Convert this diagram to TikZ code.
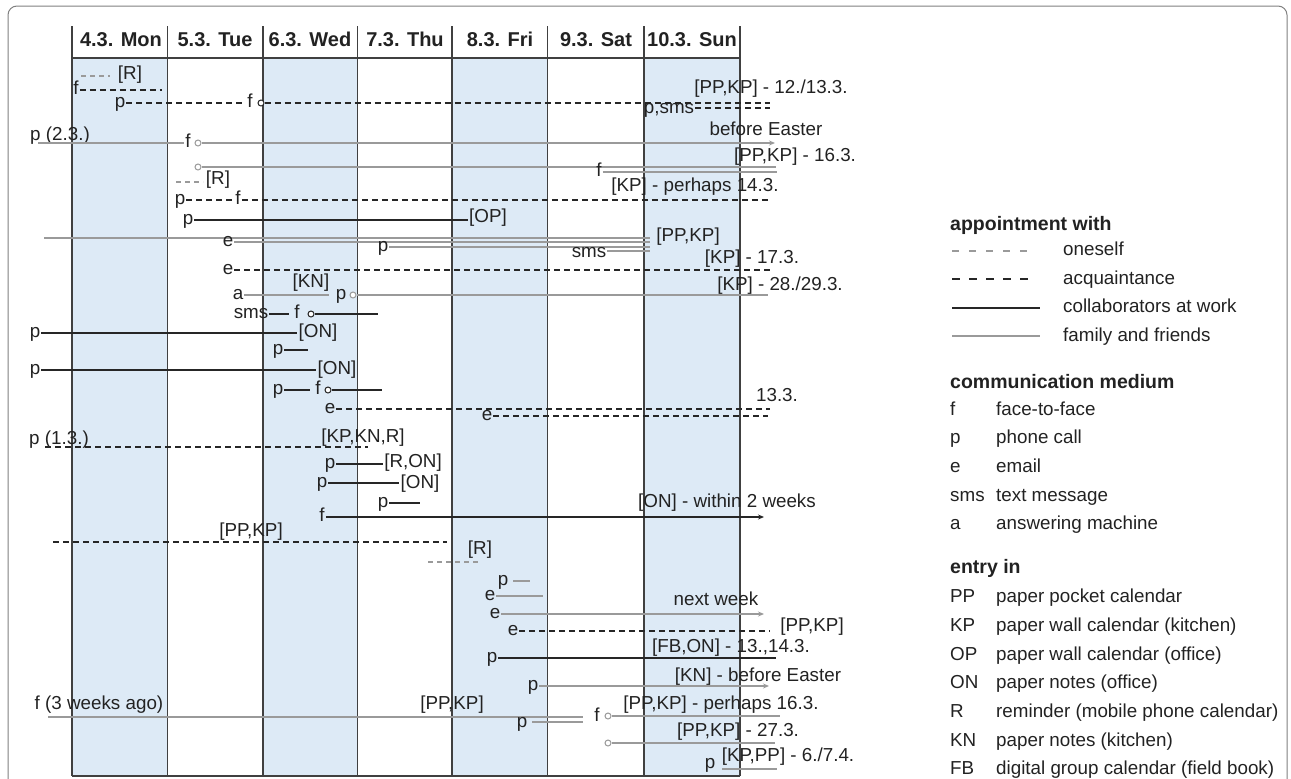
\documentclass[tikz,border=0pt]{standalone}
\usepackage{fontspec}
\setmainfont{Liberation Sans}
\usetikzlibrary{arrows.meta}

\definecolor{daybg}{HTML}{DDEAF6}
\definecolor{txt}{HTML}{222222}
\definecolor{famgray}{HTML}{9A9A9A}
\definecolor{workblk}{HTML}{262626}
\definecolor{gridc}{HTML}{404040}

\begin{document}
\begin{tikzpicture}[x=1pt, y=-1pt, every node/.style={font=\fontsize{18.8}{22}\selectfont, text=txt}]
    \tikzset{lbl/.style={inner sep=1pt, text height=13.5pt, text depth=4pt}}
    \tikzset{head/.style={inner sep=1pt, anchor=west, font=\fontsize{19.5}{22}\selectfont\bfseries}}
    \tikzset{self/.style={draw=famgray, line width=1.3pt, dash pattern=on 5pt off 4pt}}
    \tikzset{acq/.style={draw=workblk, line width=1.5pt, dash pattern=on 6pt off 4pt}}
    \tikzset{work/.style={draw=workblk, line width=1.6pt}}
    \tikzset{fam/.style={draw=famgray, line width=1.4pt}}
    \tikzset{dot/.style={circle, draw=famgray, fill=white, line width=1pt, inner sep=0pt, minimum size=6pt}}
    \tikzset{tip/.style={-{Stealth[length=6pt, width=5pt]}}}

    \useasboundingbox (0,0) rectangle (1291,779);
    \draw[gray, line width=1pt, rounded corners=9pt] (8,779) -- (8,6) -- (1287,6) -- (1287,779);

    % Week grid
    \foreach \a/\b in {72/167.5, 263/357.5, 452/547.5, 644/740}
        \fill[daybg] (\a,58) rectangle (\b,776);
    \foreach \x in {72,167.5,263,357.5,452,547.5,644,740}
        \draw[gridc, line width=1.6pt] (\x,26) -- (\x,776);
    \draw[gridc, line width=1.6pt] (72,58) -- (740,58);
    \draw[gridc, line width=1.6pt] (72,776) -- (740,776);
    \foreach \x/\dlab [count=\i] in {121/4.3. Mon, 215/5.3. Tue, 310/6.3. Wed, 405/7.3. Thu, 500/8.3. Fri, 596/9.3. Sat, 692/10.3. Sun}
        \node[lbl, font=\fontsize{20}{22}\selectfont\bfseries] (day\i) at (\x,42) {\dlab};

    % Appointments
    \node[lbl] (r1) at (130,75) {[R]};
    \coordinate (r1s) at (81,76);
    \coordinate (r1e) at (110,76);
    \draw[self] (r1s) -- (r1e);

    \node[lbl] (f1) at (76,90) {f};
    \coordinate (f1e) at (162,90);
    \draw[acq] (f1.east) -- (f1e);

    \node[lbl] (p2) at (120,103) {p};
    \node[lbl] (f2) at (250,103) {f};
    \node[dot, draw=workblk] (c2) at (261,103) {};
    \coordinate (c2e) at (770,103);
    \draw[acq] (p2.east) -- (f2.west);
    \draw[acq] (c2.east) -- (c2e);
    \node[lbl] (ps2) at (669,109) {p,sms};
    \coordinate (ps2e) at (770,108);
    \draw[acq] (ps2.east |- ps2e) -- (ps2e);
    \node[lbl] (d2) at (771,89) {[PP,KP] - 12./13.3.};

    \node[lbl] (p3) at (60,136) {p (2.3.)};
    \coordinate (p3s) at (38,143);
    \node[lbl] (f3) at (188,143) {f};
    \node[dot] (c3) at (198,143) {};
    \coordinate (c3e) at (775,143);
    \draw[fam] (p3s) -- (f3.west |- p3s);
    \draw[fam, tip] (c3.east) -- (c3e);
    \node[lbl] (d3) at (766,131) {before Easter};

    \node[dot] (c4) at (198,167) {};
    \coordinate (c4e) at (776,167);
    \draw[fam] (c4.east) -- (c4e);
    \node[lbl] (f4) at (599,172) {f};
    \coordinate (f4e) at (777,172);
    \draw[fam] (f4.east) -- (f4e);
    \node[lbl] (d4) at (795,157) {[PP,KP] - 16.3.};

    \coordinate (r5s) at (176,182);
    \coordinate (r5e) at (203,182);
    \draw[self] (r5s) -- (r5e);
    \node[lbl] (r5) at (218,180) {[R]};

    \node[lbl] (p6) at (180,200) {p};
    \node[lbl] (f6) at (238,200) {f};
    \coordinate (f6e) at (770,200);
    \draw[acq] (p6.east) -- (f6.west);
    \draw[acq] (f6.east) -- (f6e);
    \node[lbl] (d6) at (695,187) {[KP] - perhaps 14.3.};

    \node[lbl] (p7) at (188,220) {p};
    \node[lbl] (op7) at (488,218) {[OP]};
    \draw[work] (p7.east) -- (op7.west |- p7.east);

    \coordinate (g8s) at (44,238);
    \coordinate (g8e) at (650,238);
    \draw[fam] (g8s) -- (g8e);
    \node[lbl] (e8) at (228,242) {e};
    \coordinate (e8e) at (650,242);
    \draw[fam] (e8.east) -- (e8e);
    \node[lbl] (p8) at (383,247) {p};
    \coordinate (p8e) at (650,247);
    \draw[fam] (p8.east) -- (p8e);
    \node[lbl] (s8) at (589,253) {sms};
    \coordinate (s8e) at (650,251);
    \draw[fam] (s8.east |- s8e) -- (s8e);
    \node[lbl] (d8) at (688,237) {[PP,KP]};

    \node[lbl] (e9) at (228,270) {e};
    \coordinate (e9e) at (770,270);
    \draw[acq] (e9.east) -- (e9e);
    \node[lbl] (d9) at (752,259) {[KP] - 17.3.};

    \node[lbl] (kn10) at (311,283) {[KN]};
    \node[lbl] (a10) at (238,295) {a};
    \node[lbl] (p10) at (341,295) {p};
    \node[dot] (c10) at (353,295) {};
    \coordinate (c10e) at (768,295);
    \draw[fam] (a10.east) -- ([xshift=-6pt]p10.west);
    \draw[fam] (c10.east) -- (c10e);
    \node[lbl] (d10) at (780,286) {[KP] - 28./29.3.};

    \node[lbl] (s11) at (251,314) {sms};
    \node[lbl] (f11) at (297,314) {f};
    \node[dot, draw=workblk] (c11) at (311,314) {};
    \coordinate (c11e) at (378,314);
    \draw[work, shorten >=4pt] (s11.east) -- (f11.west);
    \draw[work] (c11.east) -- (c11e);

    \node[lbl] (p12) at (35,333) {p};
    \node[lbl] (on12) at (318,333) {[ON]};
    \draw[work] (p12.east) -- (on12.west);

    \node[lbl] (p13) at (278,350) {p};
    \coordinate (p13e) at (308,350);
    \draw[work] (p13.east) -- (p13e);

    \node[lbl] (p14) at (35,370) {p};
    \node[lbl] (on14) at (337,370) {[ON]};
    \draw[work] (p14.east) -- (on14.west);

    \node[lbl] (p15) at (278,390) {p};
    \node[lbl] (f15) at (318,390) {f};
    \node[dot, draw=workblk] (c15) at (328,390) {};
    \coordinate (c15e) at (382,390);
    \draw[work, shorten >=4pt] (p15.east) -- (f15.west);
    \draw[work] (c15.east) -- (c15e);

    \node[lbl] (e16) at (330,409) {e};
    \coordinate (e16e) at (770,409);
    \draw[acq] (e16.east) -- (e16e);
    \node[lbl] (d16) at (777,397) {13.3.};

    \node[lbl] (e17) at (487,416) {e};
    \coordinate (e17e) at (768,416);
    \draw[acq] (e17.east) -- (e17e);

    \node[lbl] (p18) at (59,440) {p (1.3.)};
    \coordinate (p18s) at (45,447);
    \coordinate (p18e) at (368,447);
    \draw[acq] (p18s) -- (p18e);
    \node[lbl] (kn18) at (363,438) {[KP,KN,R]};

    \node[lbl] (p19) at (330,464) {p};
    \node[lbl] (ro19) at (413,463) {[R,ON]};
    \draw[work] (p19.east) -- (ro19.west |- p19.east);

    \node[lbl] (p20) at (322,483) {p};
    \node[lbl] (on20) at (420,484) {[ON]};
    \draw[work] (p20.east) -- (on20.west |- p20.east);

    \node[lbl] (p21) at (383,503) {p};
    \coordinate (p21e) at (420,503);
    \draw[work] (p21.east) -- (p21e);

    \node[lbl] (f22) at (322,517) {f};
    \coordinate (f22e) at (764,517);
    \draw[work, tip] (f22.east) -- (f22e);
    \node[lbl] (d22) at (727,503) {[ON] - within 2 weeks};

    \coordinate (y23s) at (53,542);
    \coordinate (y23e) at (447,542);
    \draw[acq] (y23s) -- (y23e);
    \node[lbl] (pk23) at (251,532) {[PP,KP]};

    \coordinate (r24s) at (428,562);
    \coordinate (r24e) at (480,562);
    \draw[self] (r24s) -- (r24e);
    \node[lbl] (r24) at (480,550) {[R]};

    \node[lbl] (p25) at (503,581) {p};
    \coordinate (p25e) at (530,581);
    \draw[fam, shorten <=4pt] (p25.east) -- (p25e);

    \node[lbl] (e26) at (490,596) {e};
    \coordinate (e26e) at (543,596);
    \draw[fam] (e26.east) -- (e26e);

    \node[lbl] (e27) at (495,614) {e};
    \coordinate (e27e) at (764,614);
    \draw[fam, tip] (e27.east) -- (e27e);
    \node[lbl] (d27) at (716,601) {next week};

    \node[lbl] (e28) at (513,631) {e};
    \coordinate (e28e) at (770,631);
    \draw[acq] (e28.east) -- (e28e);
    \node[lbl] (d28) at (812,627) {[PP,KP]};

    \node[lbl] (p29) at (492,658) {p};
    \coordinate (p29e) at (776,658);
    \draw[work] (p29.east) -- (p29e);
    \node[lbl] (d29) at (731,648) {[FB,ON] - 13.,14.3.};

    \node[lbl] (p30) at (533,686) {p};
    \coordinate (p30e) at (769,686);
    \draw[fam, tip] (p30.east) -- (p30e);
    \node[lbl] (d30) at (758,677) {[KN] - before Easter};

    \node[lbl] (f31) at (99,705) {f (3 weeks ago)};
    \coordinate (f31s) at (48,717);
    \coordinate (f31m) at (583,717);
    \draw[fam] (f31s) -- (f31m);
    \node[lbl] (pk31) at (452,705) {[PP,KP]};
    \node[lbl] (f31b) at (597,717) {f};
    \node[dot] (c31) at (608,716) {};
    \coordinate (c31e) at (780,716);
    \draw[fam] (c31.east) -- (c31e);
    \node[lbl] (d31) at (721,705) {[PP,KP] - perhaps 16.3.};

    \node[lbl] (p32) at (522,723) {p};
    \coordinate (p32e) at (583,722);
    \draw[fam, shorten <=4pt] (p32.east |- p32e) -- (p32e);

    \node[dot] (c33) at (608,743) {};
    \coordinate (c33e) at (775,743);
    \draw[fam] (c33.east) -- (c33e);
    \node[lbl] (d33) at (738,732) {[PP,KP] - 27.3.};

    \node[lbl] (p34) at (710,764) {p};
    \node[lbl] (d34) at (788,757) {[KP,PP] - 6./7.4.};
    \coordinate (k34s) at (722,769);
    \coordinate (k34e) at (777,769);
    \draw[fam] (k34s) -- (k34e);

    % Legend
    \node[head] (lgA) at (949,225) {appointment with};
    \coordinate (lA1) at (952,251);  \coordinate (lA1e) at (1030,251);
    \coordinate (lA2) at (952,279);  \coordinate (lA2e) at (1030,279);
    \coordinate (lA3) at (952,308);  \coordinate (lA3e) at (1040,308);
    \coordinate (lA4) at (952,336);  \coordinate (lA4e) at (1040,336);
    \draw[self, dash pattern=on 7pt off 10pt] (lA1) -- (lA1e);
    \draw[acq, line width=2.2pt, dash pattern=on 8pt off 9pt] (lA2) -- (lA2e);
    \draw[work, line width=2pt] (lA3) -- (lA3e);
    \draw[fam] (lA4) -- (lA4e);
    \foreach \t [count=\i] in {oneself, acquaintance, collaborators at work, family and friends}
        \node[lbl, anchor=west] (tA\i) at (1062, 222.5+28.5*\i) {\t};

    \node[head] (lgB) at (949,382) {communication medium};
    \foreach \k/\t [count=\i] in {f/face-to-face, p/phone call, e/email, sms/text message, a/answering machine} {
        \node[lbl, anchor=west] (mk\i) at (949, 382+28.6*\i) {\k};
        \node[lbl, anchor=west] (mt\i) at (995, 382+28.6*\i) {\t};
    }

    \node[head] (lgC) at (949,568) {entry in};
    \foreach \k/\t [count=\i] in {PP/paper pocket calendar, KP/paper wall calendar (kitchen), OP/paper wall calendar (office), ON/paper notes (office), R/reminder (mobile phone calendar), KN/paper notes (kitchen), FB/digital group calendar (field book)} {
        \node[lbl, anchor=west] (ek\i) at (949, 569.3+28.7*\i) {\k};
        \node[lbl, anchor=west] (et\i) at (995, 569.3+28.7*\i) {\t};
    }
\end{tikzpicture}
\end{document}
